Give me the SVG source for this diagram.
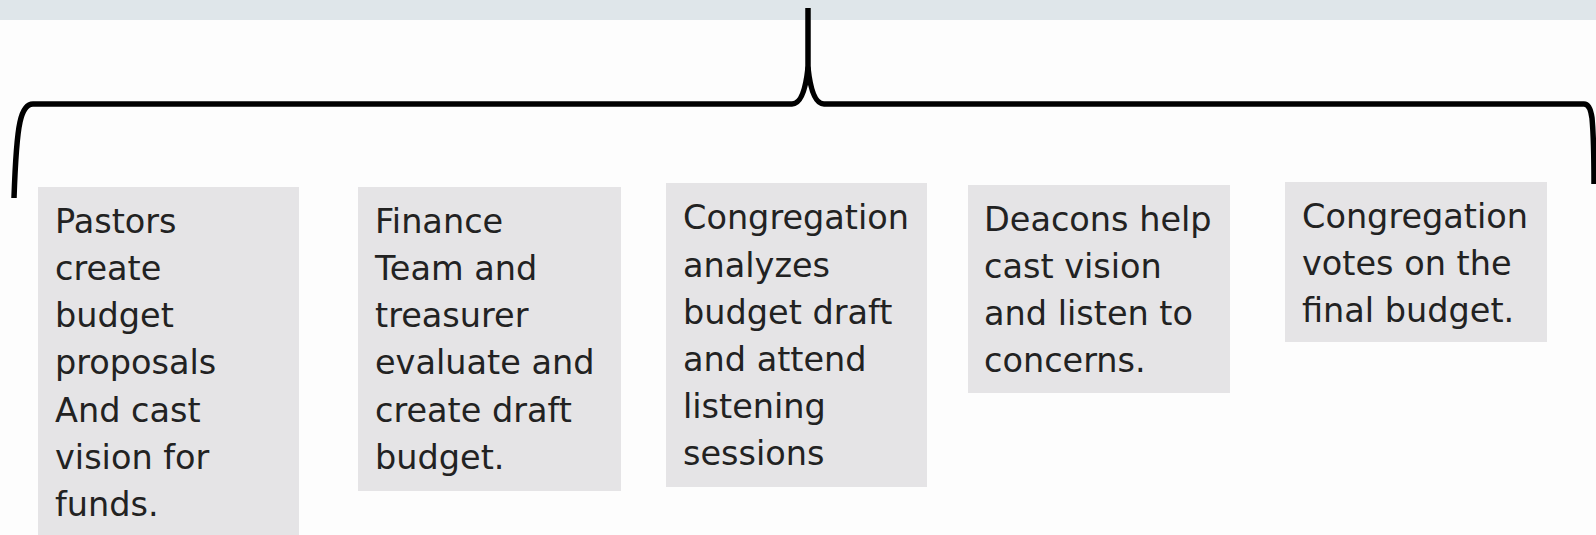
<svg xmlns="http://www.w3.org/2000/svg" width="1596" height="535" viewBox="0 0 1596 535">
<style>
.box{fill:#e5e4e6}
.t{font-family:"DejaVu Sans","Noto Sans",sans-serif;font-size:33.5px;fill:#222}
.br{fill:none;stroke:#000;stroke-width:5.5;stroke-linecap:butt;stroke-linejoin:round}
</style>
<rect x="0" y="0" width="1596" height="535" fill="#fdfdfd"/>
<rect x="0" y="0" width="1596" height="20" fill="#dfe6ea"/>
<g id="connectors">
<path class="br" d="M14,198 Q16,140 20,122 Q24,104 33,104 L792,104 Q804,104 808,68 Q812,104 824,104 L1584,104 Q1590,104 1592,118 Q1594,140 1594,184"/>
<path class="br" d="M808,8 L808,70" stroke-width="5"/>
</g>
<g id="node1">
<rect class="box" x="38" y="187" width="261" height="348"/>
<text class="t" x="55" y="233">Pastors</text>
<text class="t" x="55" y="280">create</text>
<text class="t" x="55" y="327">budget</text>
<text class="t" x="55" y="374">proposals</text>
<text class="t" x="55" y="422">And cast</text>
<text class="t" x="55" y="469">vision for</text>
<text class="t" x="55" y="516">funds.</text>
</g>
<g id="node2">
<rect class="box" x="358" y="187" width="263" height="304"/>
<text class="t" x="375" y="233">Finance</text>
<text class="t" x="375" y="280">Team and</text>
<text class="t" x="375" y="327">treasurer</text>
<text class="t" x="375" y="374">evaluate and</text>
<text class="t" x="375" y="422">create draft</text>
<text class="t" x="375" y="469">budget.</text>
</g>
<g id="node3">
<rect class="box" x="666" y="183" width="261" height="304"/>
<text class="t" x="683" y="229">Congregation</text>
<text class="t" x="683" y="277">analyzes</text>
<text class="t" x="683" y="324">budget draft</text>
<text class="t" x="683" y="371">and attend</text>
<text class="t" x="683" y="418">listening</text>
<text class="t" x="683" y="465">sessions</text>
</g>
<g id="node4">
<rect class="box" x="968" y="185" width="262" height="208"/>
<text class="t" x="984" y="231">Deacons help</text>
<text class="t" x="984" y="278">cast vision</text>
<text class="t" x="984" y="325">and listen to</text>
<text class="t" x="984" y="372">concerns.</text>
</g>
<g id="node5">
<rect class="box" x="1285" y="182" width="262" height="160"/>
<text class="t" x="1302" y="228">Congregation</text>
<text class="t" x="1302" y="275">votes on the</text>
<text class="t" x="1302" y="322">final budget.</text>
</g>
</svg>
